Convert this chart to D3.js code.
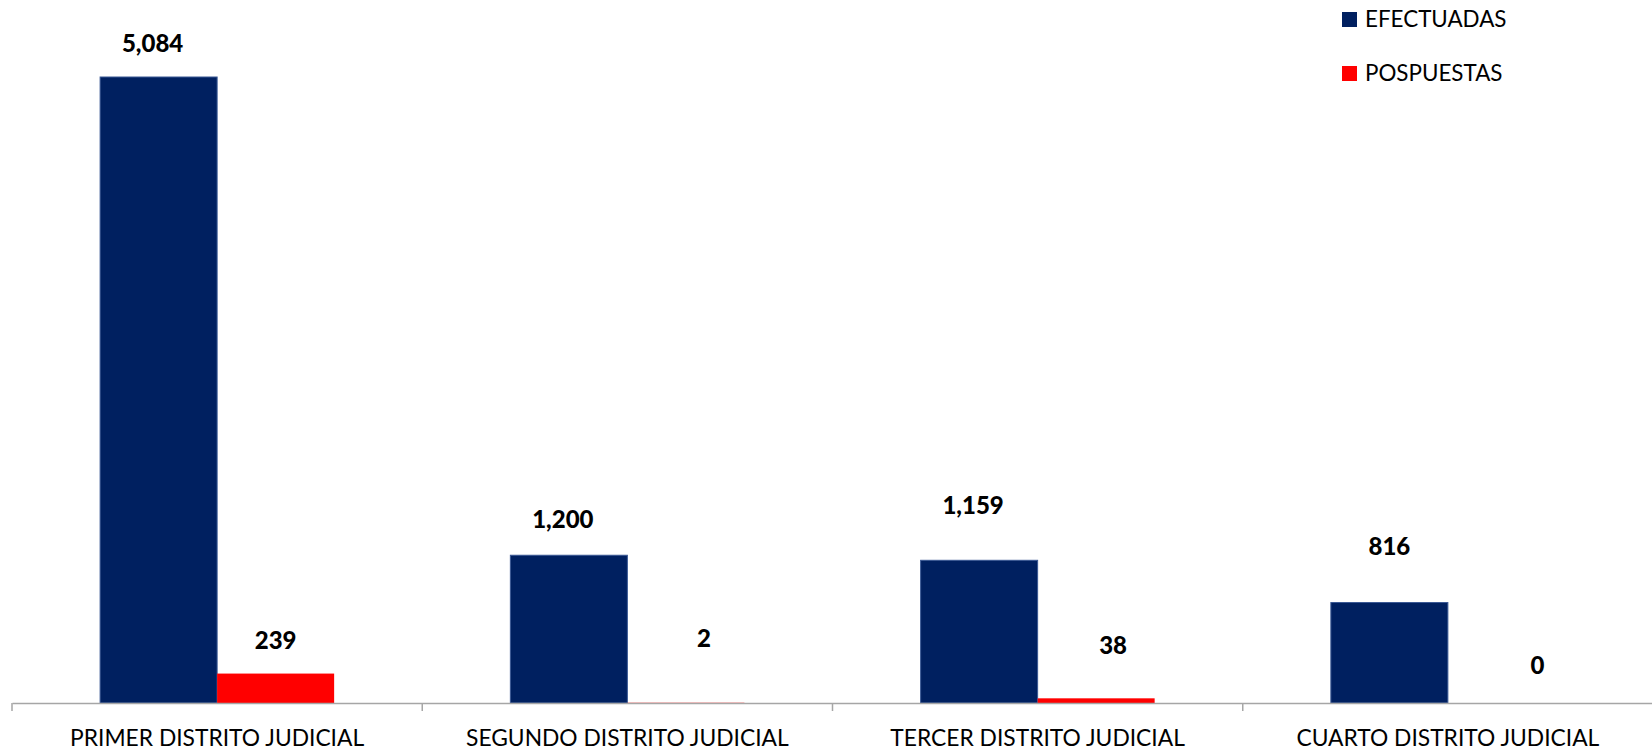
<!DOCTYPE html>
<html lang="es">
<head>
<meta charset="UTF-8">
<title>Audiencias por distrito judicial</title>
<script src="https://cdn.jsdelivr.net/npm/d3@7/dist/d3.min.js"></script>
<style>
    body { margin: 0; background: #fff; }
    svg text { font-family: Lato, "Noto Sans", sans-serif; fill: #000; }
    .cat { font-size: 22.8px; }
    .lbl { font-size: 24px; font-weight: 900; }
    .leg { font-size: 22.4px; }
</style>
</head>
<body>
<div id="chart"></div>
<script>
    // datos
    const categories = ["PRIMER DISTRITO JUDICIAL", "SEGUNDO DISTRITO JUDICIAL", "TERCER DISTRITO JUDICIAL", "CUARTO DISTRITO JUDICIAL"];
    const seriesNames = ["EFECTUADAS", "POSPUESTAS"];
    const efectuadas = [5084, 1200, 1159, 816];
    const pospuestas = [239, 2, 38, 0];
    const colors = ["#002060", "#FF0000"];

    const w = 1652, h = 751;
    const baseY = 703, topY = 77;

    const rows = categories.map((c, i) => ({cat: c, values: [efectuadas[i], pospuestas[i]]}));

    const svg = d3.select("#chart").append("svg")
        .attr("width", w)
        .attr("height", h);

    const x = d3.scaleBand()
        .domain(categories)
        .range([12, 1653])
        .paddingInner(0)
        .paddingOuter(0);

    const xSub = d3.scaleBand()
        .domain(seriesNames)
        .range([0, x.bandwidth()])
        .paddingInner(0)
        .paddingOuter(0.753);

    const y = d3.scaleLinear()
        .domain([0, d3.max(efectuadas)])
        .range([baseY, topY]);

    // excel moved some of the labels by hand: [dx, lift] per category / series
    const labelNudge = [
        [[-6, 0], [0, 0]],
        [[-6, 2], [18, 31]],
        [[-6, 21], [17, 19]],
        [[0, 23], [31, 4]]
    ];

    const groups = svg.selectAll("g.cat-group")
        .data(rows)
        .enter()
        .append("g")
        .attr("class", "cat-group")
        .attr("transform", d => "translate(" + x(d.cat) + ",0)");

    groups.selectAll("rect")
        .data(d => d.values.map((v, j) => ({s: seriesNames[j], v: v, j: j})))
        .enter()
        .append("rect")
        .attr("x", d => xSub(d.s))
        .attr("y", d => y(d.v))
        .attr("width", xSub.bandwidth())
        .attr("height", d => baseY - y(d.v))
        .attr("fill", d => colors[d.j])
        .attr("stroke", d => d.j === 0 && d.v > 0 ? "#3a5894" : "none")
        .attr("stroke-width", 1);

    groups.selectAll("text.lbl")
        .data((d, i) => d.values.map((v, j) => ({s: seriesNames[j], v: v, j: j, i: i})))
        .enter()
        .append("text")
        .attr("class", "lbl")
        .attr("text-anchor", "middle")
        .attr("x", d => xSub(d.s) + xSub.bandwidth() / 2 + labelNudge[d.i][d.j][0])
        .attr("y", d => y(d.v) - 25 - labelNudge[d.i][d.j][1])
        .text(d => d3.format(",")(d.v));

    // eje x
    const xAxis = d3.axisBottom(x).tickSize(0).tickFormat("");
    const axisG = svg.append("g")
        .attr("transform", "translate(0," + baseY + ")")
        .call(xAxis);
    axisG.select(".domain").attr("stroke", "#a6a6a6").attr("stroke-width", 1.5);

    const bounds = categories.map(c => x(c)).concat([x.range()[1]]);
    axisG.selectAll("line.sep")
        .data(bounds)
        .enter()
        .append("line")
        .attr("class", "sep")
        .attr("x1", d => d).attr("x2", d => d)
        .attr("y1", 0).attr("y2", 8)
        .attr("stroke", "#a6a6a6")
        .attr("stroke-width", 1.5);

    svg.selectAll("text.cat")
        .data(categories)
        .enter()
        .append("text")
        .attr("class", "cat")
        .attr("text-anchor", "middle")
        .attr("x", d => x(d) + x.bandwidth() / 2)
        .attr("y", 746)
        .text(d => d);

    // leyenda
    const legend = svg.append("g").attr("transform", "translate(1342,12)");
    seriesNames.forEach((s, i) => {
        legend.append("rect")
            .attr("x", 0)
            .attr("y", i * 54)
            .attr("width", 15)
            .attr("height", 15)
            .attr("fill", colors[i]);
        legend.append("text")
            .attr("class", "leg")
            .attr("x", 23)
            .attr("y", i * 54 + 15)
            .text(s);
    });
</script>
</body>
</html>
